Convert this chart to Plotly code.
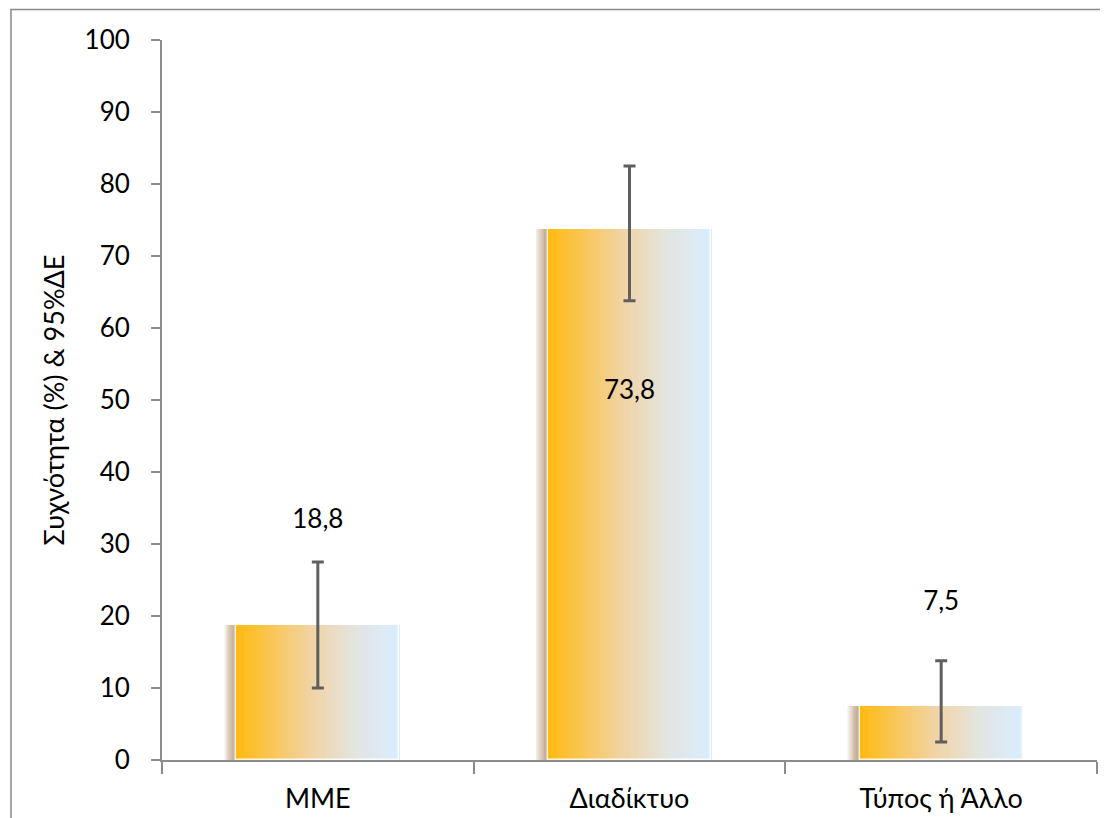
import plotly.graph_objects as go
from plotly.colors import sample_colorscale

# ---- data ----
categories = ["ΜΜΕ", "Διαδίκτυο", "Τύπος ή Άλλο"]
values = [18.8, 73.8, 7.5]
ci_upper = [27.5, 82.5, 13.8]
ci_lower = [10.0, 63.8, 2.5]
value_labels = ["18,8", "73,8", "7,5"]
y_ticks = [0, 10, 20, 30, 40, 50, 60, 70, 80, 90, 100]
y_title = "Συχνότητα (%) & 95%ΔΕ"

# ---- style ----
label_y = [33.1, 51.0, 21.7]
bar_w = 0.523
n_slices = 40
gradient = [[0.0, "#FFBB14"], [0.45, "#F2D3A2"], [0.75, "#E2E5E3"], [1.0, "#D9EDFC"]]
FONT = "Lato"

fig = go.Figure()

# soft drop shadow on the left side (many faint layers -> smooth fade)
n_shadow = 14
for k in range(n_shadow):
    shift = 0.040 * (n_shadow - k) / n_shadow
    fig.add_trace(go.Bar(
        x=categories, y=values, width=bar_w * 0.6, offset=-bar_w / 2 - shift,
        marker=dict(color="rgba(160,100,55,0.06)", line=dict(width=0)),
        hoverinfo="skip", showlegend=False,
    ))

# gradient bar made of thin slices
cols = sample_colorscale(gradient, [i / (n_slices - 1) for i in range(n_slices)])
sw = bar_w / n_slices
for i, c in enumerate(cols):
    fig.add_trace(go.Bar(
        x=categories, y=values, width=sw * 1.15, offset=-bar_w / 2 + i * sw,
        marker=dict(color=c, line=dict(width=0)),
        hoverinfo="skip", showlegend=False,
    ))

# light outline around each bar
fig.add_trace(go.Bar(
    x=categories, y=values, width=bar_w, offset=-bar_w / 2,
    marker=dict(color="rgba(0,0,0,0)", line=dict(width=1.5, color="rgba(255,255,255,0.85)")),
    hoverinfo="skip", showlegend=False,
))

# error bars
fig.add_trace(go.Scatter(
    x=categories, y=values, mode="markers",
    marker=dict(size=0.1, color="rgba(0,0,0,0)"),
    error_y=dict(type="data", symmetric=False,
                 array=[u - v for u, v in zip(ci_upper, values)],
                 arrayminus=[v - l for v, l in zip(values, ci_lower)],
                 color="#5F5F5F", thickness=3, width=6),
    showlegend=False, hoverinfo="skip",
))

# value labels
fig.add_trace(go.Scatter(
    x=categories, y=label_y, mode="text", text=value_labels,
    textfont=dict(family=FONT, size=26, color="#000000"),
    showlegend=False, hoverinfo="skip",
))

# outer frame
fig.add_shape(type="rect", xref="paper", yref="paper",
              x0=-0.1615, x1=1.03, y0=-0.2, y1=1.0424,
              line=dict(color="#888888", width=1.5), layer="above")

fig.update_layout(
    width=1100, height=810,
    margin=dict(l=154, r=11, t=32, b=58),
    paper_bgcolor="white", plot_bgcolor="white",
    barmode="overlay", bargap=0,
    font=dict(family=FONT, size=26, color="#000000"),
    xaxis=dict(
        type="category", showline=True, linecolor="#8C8C8C", linewidth=2,
        ticks="outside", tickson="boundaries", ticklen=12, tickcolor="#8C8C8C", tickwidth=1.5,
        tickfont=dict(family=FONT, size=27), ticklabelstandoff=14, automargin=False,
        showgrid=False, zeroline=False, range=[-0.5, 2.5],
    ),
    yaxis=dict(
        range=[0, 100], tickvals=y_ticks, showline=True, linecolor="#8C8C8C", linewidth=2,
        ticks="outside", ticklen=9, tickcolor="#8C8C8C", tickwidth=1.5,
        tickfont=dict(family=FONT, size=26), ticklabelstandoff=16, automargin=False,
        showgrid=False, zeroline=False,
        title=dict(text=y_title, font=dict(family=FONT, size=27), standoff=12),
    ),
)

fig.write_html("out.html")
